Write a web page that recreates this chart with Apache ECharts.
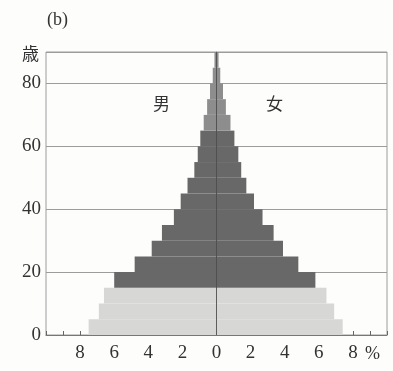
<!DOCTYPE html>
<html>
<head>
<meta charset="utf-8">
<script src="https://cdn.jsdelivr.net/npm/echarts@6/dist/echarts.min.js"></script>
<style>
html,body{margin:0;padding:0;background:#fdfdfc;}
#chart{width:393px;height:371px;}
</style>
</head>
<body>
<div id="chart"></div>
<script>
// Age groups (5-year bands), bottom to top
const ageGroups = ['0-4','5-9','10-14','15-19','20-24','25-29','30-34','35-39','40-44','45-49','50-54','55-59','60-64','65-69','70-74','75-79','80-84','85-89'];
// Share of total population (%)
const male   = [7.5, 6.9, 6.6, 6.0, 4.8, 3.8, 3.2, 2.5, 2.1, 1.7, 1.3, 1.1, 0.95, 0.75, 0.55, 0.38, 0.22, 0.12];
const female = [7.4, 6.9, 6.45, 5.8, 4.8, 3.9, 3.35, 2.7, 2.2, 1.75, 1.45, 1.28, 1.05, 0.82, 0.55, 0.38, 0.22, 0.12];
// Axis tick labels
const yTickLabels = [0, 20, 40, 60, 80];
const xTickLabels = [-8, -6, -4, -2, 0, 2, 4, 6, 8];

const LIGHT = '#d7d7d5', DARK = '#686868', MID = '#8d8d8d';
function bandColor(p) {
  if (p.dataIndex < 3) return LIGHT;
  if (p.dataIndex < 13) return DARK;
  return MID;
}
const serif = 'Liberation Serif';
const chart = echarts.init(document.getElementById('chart'), null, {renderer: 'canvas'});
chart.setOption({
  backgroundColor: '#fdfdfc',
  animation: false,
  grid: {left: 46, right: 6, top: 52, bottom: 36, show: true, borderColor: '#9c9c9c', borderWidth: 1, backgroundColor: 'transparent'},
  xAxis: {
    type: 'value', min: -10, max: 10, interval: 2,
    axisLine: {show: true, lineStyle: {color: '#777', width: 1}},
    axisTick: {show: true, inside: true, length: 4, lineStyle: {color: '#666'}},
    minorTick: {show: true, splitNumber: 2, length: 4, lineStyle: {color: '#666'}},
    splitLine: {show: false},
    axisLabel: {
      margin: 9, color: '#333', fontFamily: serif, fontSize: 19,
      formatter: v => xTickLabels.indexOf(v) >= 0 ? String(Math.abs(v)) : ''
    }
  },
  yAxis: [
    {
      type: 'value', min: 0, max: 90, interval: 20,
      axisLine: {show: true, lineStyle: {color: '#9c9c9c'}},
      axisTick: {show: false},
      splitLine: {show: true, lineStyle: {color: '#9c9c9c', width: 1}},
      axisLabel: {
        margin: 5, color: '#333', fontFamily: serif, fontSize: 19,
        formatter: v => yTickLabels.indexOf(v) >= 0 ? String(v) : ''
      }
    },
    {
      type: 'category', data: ageGroups, show: false, boundaryGap: true
    }
  ],
  series: [
    {
      name: '男', type: 'bar', yAxisIndex: 1, stack: 'pop', barCategoryGap: 0, barWidth: '100%',
      data: male.map(v => -v),
      itemStyle: {color: bandColor},
      markLine: {
        silent: true, symbol: 'none', label: {show: false},
        lineStyle: {color: '#4a4a4a', width: 1, type: 'solid', opacity: 0.85},
        data: [{xAxis: 0}]
      },
      z: 2
    },
    {
      name: '女', type: 'bar', yAxisIndex: 1, stack: 'pop', barCategoryGap: 0, barWidth: '100%',
      data: female,
      itemStyle: {color: bandColor},
      z: 2
    }
  ],
  graphic: [
    {type: 'text', left: 47, top: 11, style: {text: '(b)', font: '18px "Liberation Serif"', fill: '#333', letterSpacing: 2}},
    {type: 'text', left: 22, top: 45, style: {text: '歳', font: '17px "Noto Sans CJK JP"', fill: '#333'}},
    {type: 'text', left: 153, top: 95, style: {text: '男', font: '17px "Noto Sans CJK JP"', fill: '#333'}},
    {type: 'text', left: 266, top: 95, style: {text: '女', font: '17px "Noto Sans CJK JP"', fill: '#333'}},
    {type: 'text', left: 365, top: 345, style: {text: '%', font: '18px "Liberation Serif"', fill: '#333'}}
  ]
});
</script>
</body>
</html>
